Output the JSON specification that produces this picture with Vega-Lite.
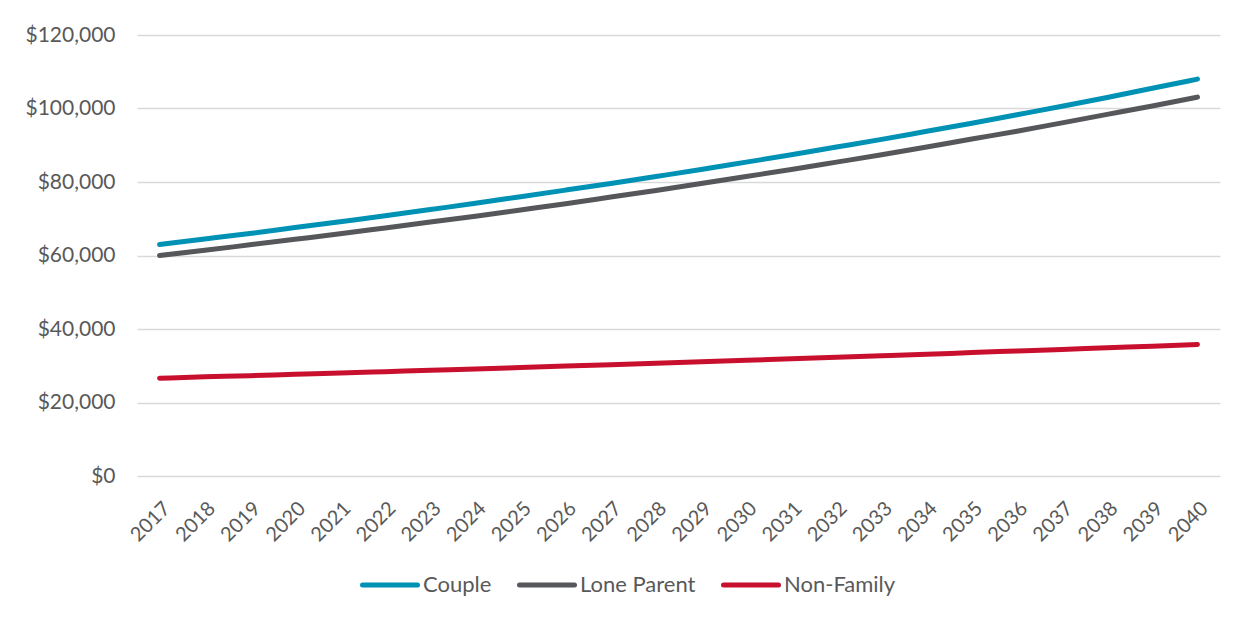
{
  "$schema": "https://vega.github.io/schema/vega-lite/v6.json",
  "width": 1083,
  "height": 441,
  "autosize": {"type": "none"},
  "padding": {"left": 137, "top": 35, "right": 24, "bottom": 145},
  "background": "white",
  "config": {
    "font": "Lato",
    "view": {"stroke": null},
    "axis": {"labelColor": "#595959", "labelFont": "Lato", "labelFontSize": 21, "domain": false, "ticks": false, "title": null}
  },
  "data": {
    "values": [
      {"year": "2017", "series": "Couple", "value": 63000},
      {"year": "2018", "series": "Couple", "value": 64500},
      {"year": "2019", "series": "Couple", "value": 66000},
      {"year": "2020", "series": "Couple", "value": 67600},
      {"year": "2021", "series": "Couple", "value": 69200},
      {"year": "2022", "series": "Couple", "value": 70800},
      {"year": "2023", "series": "Couple", "value": 72500},
      {"year": "2024", "series": "Couple", "value": 74200},
      {"year": "2025", "series": "Couple", "value": 76000},
      {"year": "2026", "series": "Couple", "value": 77800},
      {"year": "2027", "series": "Couple", "value": 79600},
      {"year": "2028", "series": "Couple", "value": 81500},
      {"year": "2029", "series": "Couple", "value": 83400},
      {"year": "2030", "series": "Couple", "value": 85400},
      {"year": "2031", "series": "Couple", "value": 87400},
      {"year": "2032", "series": "Couple", "value": 89500},
      {"year": "2033", "series": "Couple", "value": 91600},
      {"year": "2034", "series": "Couple", "value": 93800},
      {"year": "2035", "series": "Couple", "value": 96000},
      {"year": "2036", "series": "Couple", "value": 98300},
      {"year": "2037", "series": "Couple", "value": 100600},
      {"year": "2038", "series": "Couple", "value": 103000},
      {"year": "2039", "series": "Couple", "value": 105500},
      {"year": "2040", "series": "Couple", "value": 108000},
      {"year": "2017", "series": "Lone Parent", "value": 60000},
      {"year": "2018", "series": "Lone Parent", "value": 61400},
      {"year": "2019", "series": "Lone Parent", "value": 62900},
      {"year": "2020", "series": "Lone Parent", "value": 64400},
      {"year": "2021", "series": "Lone Parent", "value": 65900},
      {"year": "2022", "series": "Lone Parent", "value": 67500},
      {"year": "2023", "series": "Lone Parent", "value": 69100},
      {"year": "2024", "series": "Lone Parent", "value": 70700},
      {"year": "2025", "series": "Lone Parent", "value": 72400},
      {"year": "2026", "series": "Lone Parent", "value": 74100},
      {"year": "2027", "series": "Lone Parent", "value": 75900},
      {"year": "2028", "series": "Lone Parent", "value": 77700},
      {"year": "2029", "series": "Lone Parent", "value": 79600},
      {"year": "2030", "series": "Lone Parent", "value": 81500},
      {"year": "2031", "series": "Lone Parent", "value": 83400},
      {"year": "2032", "series": "Lone Parent", "value": 85400},
      {"year": "2033", "series": "Lone Parent", "value": 87400},
      {"year": "2034", "series": "Lone Parent", "value": 89500},
      {"year": "2035", "series": "Lone Parent", "value": 91700},
      {"year": "2036", "series": "Lone Parent", "value": 93800},
      {"year": "2037", "series": "Lone Parent", "value": 96100},
      {"year": "2038", "series": "Lone Parent", "value": 98400},
      {"year": "2039", "series": "Lone Parent", "value": 100700},
      {"year": "2040", "series": "Lone Parent", "value": 103100},
      {"year": "2017", "series": "Non-Family", "value": 26600},
      {"year": "2018", "series": "Non-Family", "value": 27000},
      {"year": "2019", "series": "Non-Family", "value": 27300},
      {"year": "2020", "series": "Non-Family", "value": 27700},
      {"year": "2021", "series": "Non-Family", "value": 28000},
      {"year": "2022", "series": "Non-Family", "value": 28400},
      {"year": "2023", "series": "Non-Family", "value": 28800},
      {"year": "2024", "series": "Non-Family", "value": 29100},
      {"year": "2025", "series": "Non-Family", "value": 29500},
      {"year": "2026", "series": "Non-Family", "value": 29900},
      {"year": "2027", "series": "Non-Family", "value": 30300},
      {"year": "2028", "series": "Non-Family", "value": 30700},
      {"year": "2029", "series": "Non-Family", "value": 31100},
      {"year": "2030", "series": "Non-Family", "value": 31500},
      {"year": "2031", "series": "Non-Family", "value": 31900},
      {"year": "2032", "series": "Non-Family", "value": 32300},
      {"year": "2033", "series": "Non-Family", "value": 32700},
      {"year": "2034", "series": "Non-Family", "value": 33100},
      {"year": "2035", "series": "Non-Family", "value": 33600},
      {"year": "2036", "series": "Non-Family", "value": 34000},
      {"year": "2037", "series": "Non-Family", "value": 34400},
      {"year": "2038", "series": "Non-Family", "value": 34900},
      {"year": "2039", "series": "Non-Family", "value": 35300},
      {"year": "2040", "series": "Non-Family", "value": 35800}
    ]
  },
  "mark": {"type": "line", "strokeWidth": 5, "strokeCap": "round", "strokeJoin": "round", "interpolate": "monotone"},
  "encoding": {
    "x": {
      "field": "year", "type": "ordinal",
      "scale": {"type": "point", "padding": 0.5},
      "axis": {"labelAngle": -45, "labelPadding": 22, "labelFontSize": 20, "grid": false}
    },
    "y": {
      "field": "value", "type": "quantitative",
      "scale": {"domain": [0, 120000], "nice": false},
      "axis": {"values": [0, 20000, 40000, 60000, 80000, 100000, 120000], "format": "$,.0f", "labelPadding": 22, "grid": true, "gridColor": "#d9d9d9", "gridWidth": 1.5}
    },
    "color": {
      "field": "series", "type": "nominal",
      "scale": {"domain": ["Couple", "Lone Parent", "Non-Family"], "range": ["#0092B4", "#55575A", "#C8102E"]},
      "legend": {
        "orient": "none", "direction": "horizontal", "title": null,
        "legendX": 223, "legendY": 520,
        "symbolType": "stroke", "symbolSize": 3025, "symbolStrokeWidth": 5,
        "labelFont": "Lato", "labelFontSize": 22, "labelColor": "#595959", "labelOffset": 3,
        "columnPadding": 17,
        "encode": {"symbols": {"update": {"strokeCap": {"value": "round"}}}}
      }
    }
  }
}
